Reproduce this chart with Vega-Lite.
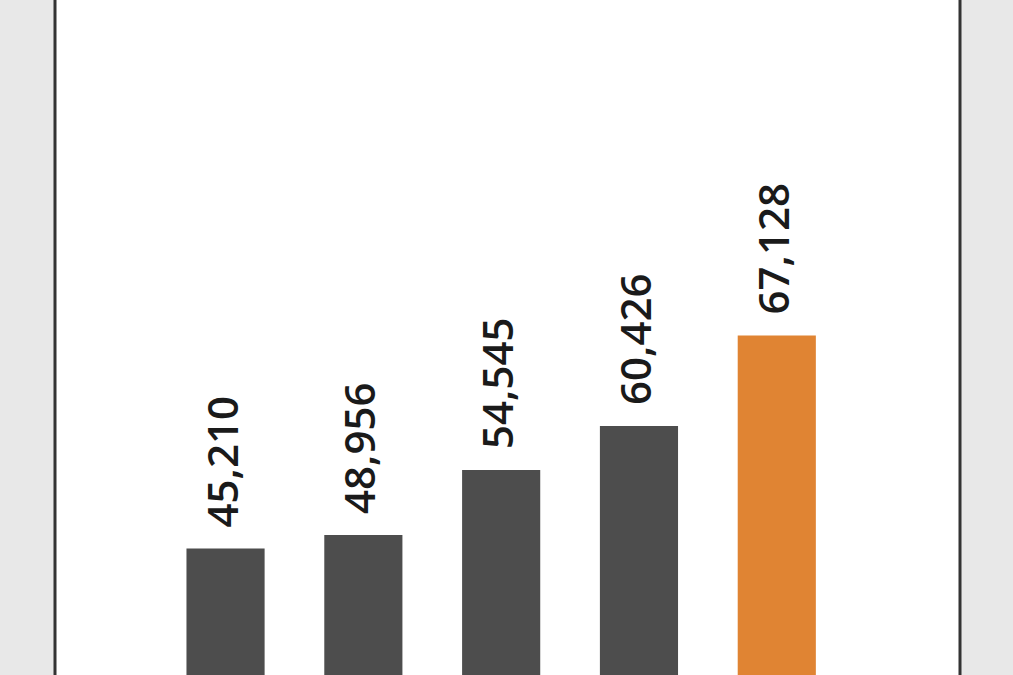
{
  "$schema": "https://vega.github.io/schema/vega-lite/v6.json",
  "width": 905,
  "height": 700,
  "padding": {"left": 55, "top": -10, "right": 53, "bottom": 0},
  "autosize": {"type": "none"},
  "background": "#e8e8e8",
  "config": {
    "view": {"fill": "#ffffff", "stroke": "#333333", "strokeWidth": 3}
  },
  "data": {
    "values": [
      {"category": "A", "value": 141.5, "label": "45,210", "highlight": false},
      {"category": "B", "value": 155, "label": "48,956", "highlight": false},
      {"category": "C", "value": 220, "label": "54,545", "highlight": false},
      {"category": "D", "value": 264, "label": "60,426", "highlight": false},
      {"category": "E", "value": 354.5, "label": "67,128", "highlight": true}
    ]
  },
  "encoding": {
    "x": {
      "field": "category",
      "type": "nominal",
      "axis": null,
      "scale": {"paddingInner": 0.433, "paddingOuter": 1.046, "align": 0.477}
    },
    "y": {
      "field": "value",
      "type": "quantitative",
      "axis": null,
      "scale": {"domain": [0, 700], "nice": false}
    }
  },
  "layer": [
    {
      "mark": {"type": "bar"},
      "encoding": {
        "color": {
          "field": "highlight",
          "type": "nominal",
          "legend": null,
          "scale": {"domain": [false, true], "range": ["#4d4d4d", "#e08433"]}
        }
      }
    },
    {
      "mark": {
        "type": "text",
        "angle": -90,
        "align": "left",
        "baseline": "middle",
        "dx": 21,
        "dy": -1,
        "font": "Open Sans",
        "fontSize": 42,
        "fontWeight": 600,
        "color": "#1a1a1a"
      },
      "encoding": {"text": {"field": "label"}}
    }
  ]
}
